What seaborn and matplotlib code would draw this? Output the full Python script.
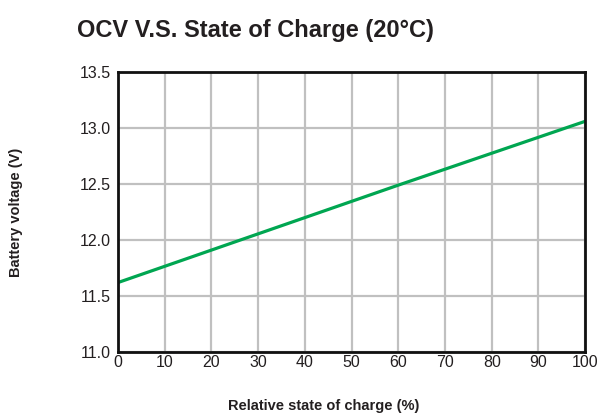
import matplotlib
matplotlib.use("Agg")
import matplotlib.pyplot as plt
import seaborn as sns
import pandas as pd

# Values
soc = [0, 60, 100]
voltage = [11.62, 12.49, 13.06]
x_ticks = [0, 10, 20, 30, 40, 50, 60, 70, 80, 90, 100]
y_ticks = [11.0, 11.5, 12.0, 12.5, 13.0, 13.5]

df = pd.DataFrame({"soc": soc, "voltage": voltage})

sns.set_theme(style="white")
plt.rcParams["font.family"] = ["Liberation Sans", "DejaVu Sans"]

fig = plt.figure(figsize=(6.02, 4.19), dpi=100)
ax = fig.add_axes([0.196, 0.160, 0.776, 0.668])

sns.lineplot(data=df, x="soc", y="voltage", color="#00a651", linewidth=2.3, ax=ax)

ax.set_xlim(0, 100)
ax.set_ylim(11.0, 13.5)
ax.set_xticks(x_ticks)
ax.set_yticks(y_ticks)
ax.set_yticklabels([f"{v:.1f}" for v in y_ticks])
ax.grid(True, color="#c0c0c0", linewidth=1.6)
ax.set_axisbelow(True)
ax.tick_params(axis="both", length=0, labelsize=11.5, colors="#231f20")
ax.tick_params(axis="x", pad=2)
ax.tick_params(axis="y", pad=5)
for s in ax.spines.values():
    s.set_color("#111111")
    s.set_linewidth(2.0)
ax.set_xlabel("")
ax.set_ylabel("")

fig.text(0.128, 0.928, "OCV V.S. State of Charge (20°C)", fontsize=17,
         fontweight="bold", color="#231f20", ha="left", va="center")
fig.text(0.538, 0.03, "Relative state of charge (%)", fontsize=10.5,
         fontweight="bold", color="#231f20", ha="center", va="center")
fig.text(0.027, 0.492, "Battery voltage (V)", fontsize=10.5, rotation=90,
         fontweight="bold", color="#231f20", ha="center", va="center")

fig.savefig("out.png", dpi=100)
